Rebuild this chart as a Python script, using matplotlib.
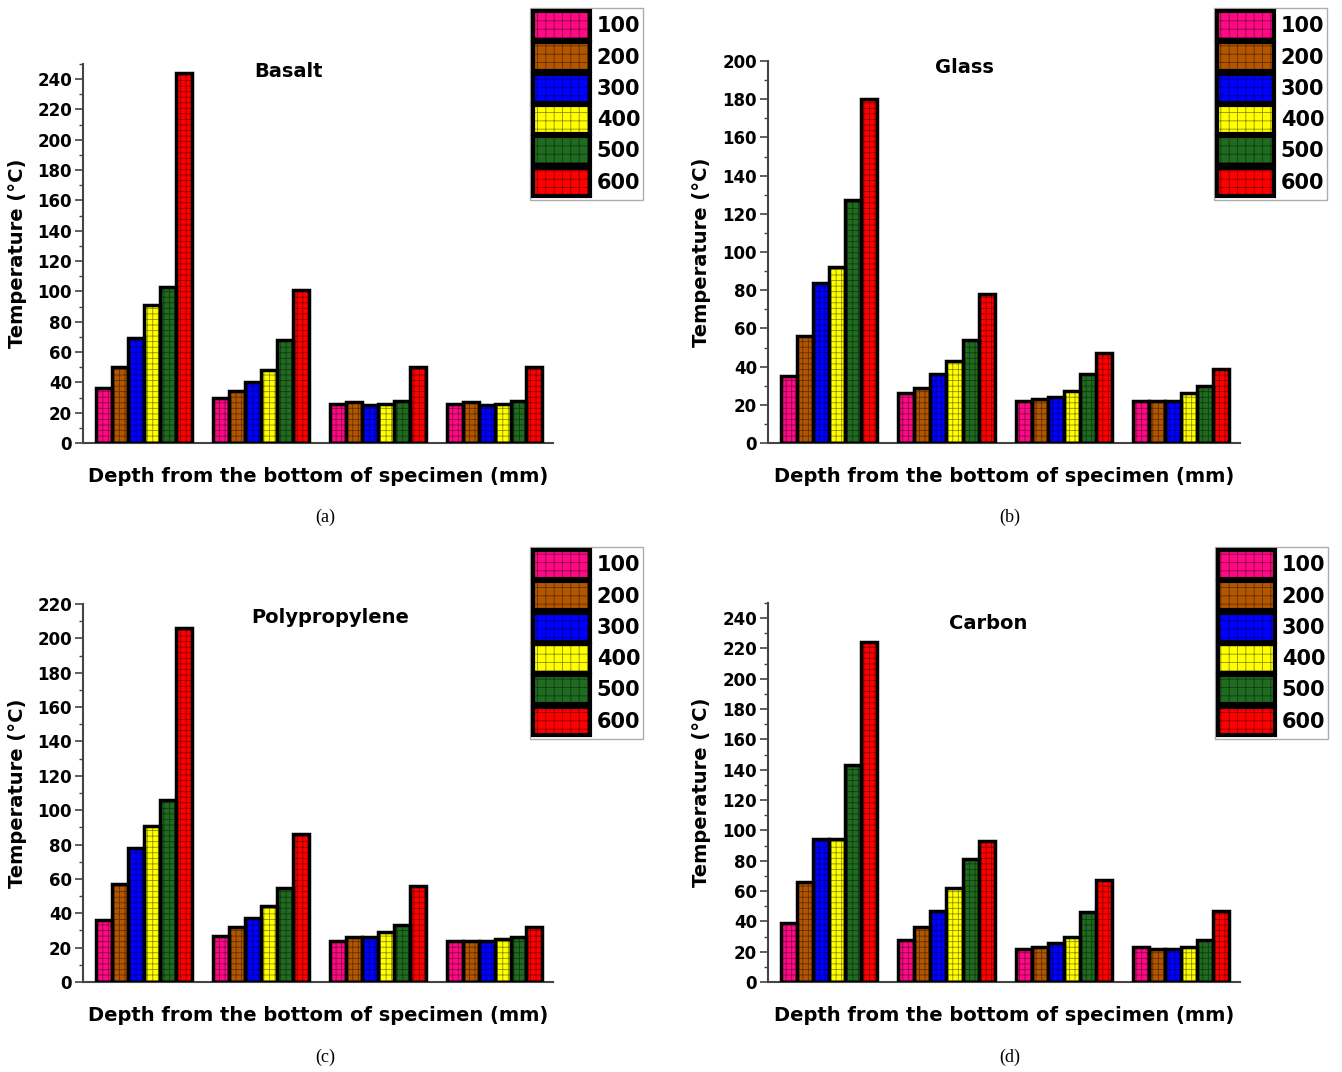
import matplotlib
matplotlib.use("Agg")
import matplotlib.pyplot as plt
from matplotlib.patches import Patch
from matplotlib.legend_handler import HandlerBase
from matplotlib.patches import Rectangle
from matplotlib.ticker import MultipleLocator
import numpy as np

# Depth groups along the x axis (four measuring depths, unlabeled)
depth_groups = [0, 1, 2, 3]
# Exposure temperatures (series)
series_labels = ["100", "200", "300", "400", "500", "600"]
series_colors = ["#FF0A85", "#B35600", "#0000FF", "#FFFF00", "#1F6B1F", "#FF0000"]

basalt_100 = [36, 30, 26, 26]
basalt_200 = [50, 34, 27, 27]
basalt_300 = [69, 40, 25, 25]
basalt_400 = [91, 48, 26, 26]
basalt_500 = [103, 68, 28, 28]
basalt_600 = [244, 101, 50, 50]

glass_100 = [35, 26, 22, 22]
glass_200 = [56, 29, 23, 22]
glass_300 = [84, 36, 24, 22]
glass_400 = [92, 43, 27, 26]
glass_500 = [127, 54, 36, 30]
glass_600 = [180, 78, 47, 39]

pp_100 = [36, 27, 24, 24]
pp_200 = [57, 32, 26, 24]
pp_300 = [78, 37, 26, 24]
pp_400 = [91, 44, 29, 25]
pp_500 = [106, 55, 33, 26]
pp_600 = [206, 86, 56, 32]

carbon_100 = [39, 28, 22, 23]
carbon_200 = [66, 36, 23, 22]
carbon_300 = [94, 47, 26, 22]
carbon_400 = [94, 62, 30, 23]
carbon_500 = [143, 81, 46, 28]
carbon_600 = [224, 93, 67, 47]

panels = [
    ("Basalt", [basalt_100, basalt_200, basalt_300, basalt_400, basalt_500, basalt_600], 250, "(a)"),
    ("Glass", [glass_100, glass_200, glass_300, glass_400, glass_500, glass_600], 200, "(b)"),
    ("Polypropylene", [pp_100, pp_200, pp_300, pp_400, pp_500, pp_600], 220, "(c)"),
    ("Carbon", [carbon_100, carbon_200, carbon_300, carbon_400, carbon_500, carbon_600], 250, "(d)"),
]

plt.rcParams["font.family"] = ["DejaVu Sans"]
plt.rcParams["font.weight"] = "bold"
plt.rcParams["hatch.linewidth"] = 0.6

GRID_INK = (0, 0, 0, 0.45)


class GridBoxHandler(HandlerBase):
    """Legend key: coloured box with a light grid and a heavy black outline."""

    def create_artists(self, legend, orig_handle, xdescent, ydescent,
                       width, height, fontsize, trans):
        fill = Rectangle((-xdescent, -ydescent), width, height,
                         facecolor=orig_handle.get_facecolor(), edgecolor=GRID_INK,
                         linewidth=0, hatch="++", transform=trans)
        edge = Rectangle((-xdescent, -ydescent), width, height, fill=False,
                         edgecolor="black", linewidth=3.0, transform=trans)
        return [fill, edge]


W, H = 1342, 1072
fig = plt.figure(figsize=(W / 100, H / 100), dpi=100)

# axes boxes in pixels: left, right, bottom, top
boxes = [(83, 553, 443, 64), (768, 1240, 443, 61), (83, 553, 982, 604), (768, 1240, 982, 603)]
title_pos = [(0.438, 0.979), (0.417, 0.984), (0.526, 0.963), (0.466, 0.945)]
legend_anchor = [(530, 8), (1214, 8), (530, 547), (1215, 547)]
caption_pos = [(325, 517), (1010, 517), (325, 1057), (1010, 1057)]

group_width = 0.82
n = len(series_labels)
bw = group_width / n

for (name, series, ymax, cap), (l, r, b, t), tp, la, cp in zip(
        panels, boxes, title_pos, legend_anchor, caption_pos):
    ax = fig.add_axes([l / W, 1 - b / H, (r - l) / W, (b - t) / H])
    x = np.array(depth_groups, dtype=float)
    for i, (vals, col) in enumerate(zip(series, series_colors)):
        offs = (i - (n - 1) / 2) * bw
        ax.bar(x + offs, vals, width=bw, color=col, edgecolor=GRID_INK,
               linewidth=0, hatch="+++", zorder=3)
        ax.bar(x + offs, vals, width=bw, fill=False, edgecolor="black",
               linewidth=2.5, zorder=4)
    ax.set_xlim(-0.52, 3.5)
    ax.set_ylim(0, ymax)
    ax.yaxis.set_major_locator(MultipleLocator(20))
    ax.yaxis.set_minor_locator(MultipleLocator(10))
    ax.set_xticks([])
    for s in ("top", "right"):
        ax.spines[s].set_visible(False)
    for s in ("left", "bottom"):
        ax.spines[s].set_color("#444444")
        ax.spines[s].set_linewidth(1.5)
    ax.tick_params(axis="y", which="major", length=6, width=1.2, color="#444444",
                   labelsize=12, pad=2)
    ax.tick_params(axis="y", which="minor", length=3, width=1.0, color="#444444")
    for lbl in ax.get_yticklabels():
        lbl.set_fontweight("bold")
    ax.set_ylabel("Temperature (\u00b0C)", fontsize=14, fontweight="bold")
    ax.yaxis.set_label_coords(-0.12, 0.5)
    ax.set_xlabel("Depth from the bottom of specimen (mm)", fontsize=14, fontweight="bold")
    ax.xaxis.set_label_coords(0.5, -0.064)
    ax.text(tp[0], tp[1], name, transform=ax.transAxes, ha="center", va="center",
            fontsize=14, fontweight="bold")

    handles = [Patch(facecolor=c, label=s) for c, s in zip(series_colors, series_labels)]
    leg = fig.legend(handles=handles, loc="upper left",
                     bbox_to_anchor=(la[0] / W, 1 - la[1] / H),
                     bbox_transform=fig.transFigure, frameon=True, fancybox=False,
                     handlelength=2.75, handleheight=1.75,
                     labelspacing=0.12, handletextpad=0.3, borderpad=0.15,
                     borderaxespad=0, prop={"weight": "bold", "size": 15},
                     handler_map={Patch: GridBoxHandler()})
    leg.get_frame().set_edgecolor("#999999")
    leg.get_frame().set_linewidth(1.0)

    fig.text(cp[0] / W, 1 - cp[1] / H, cap, ha="center", va="center",
             fontsize=13, fontweight="normal", family="Liberation Serif")

fig.savefig("out.png", dpi=100)
